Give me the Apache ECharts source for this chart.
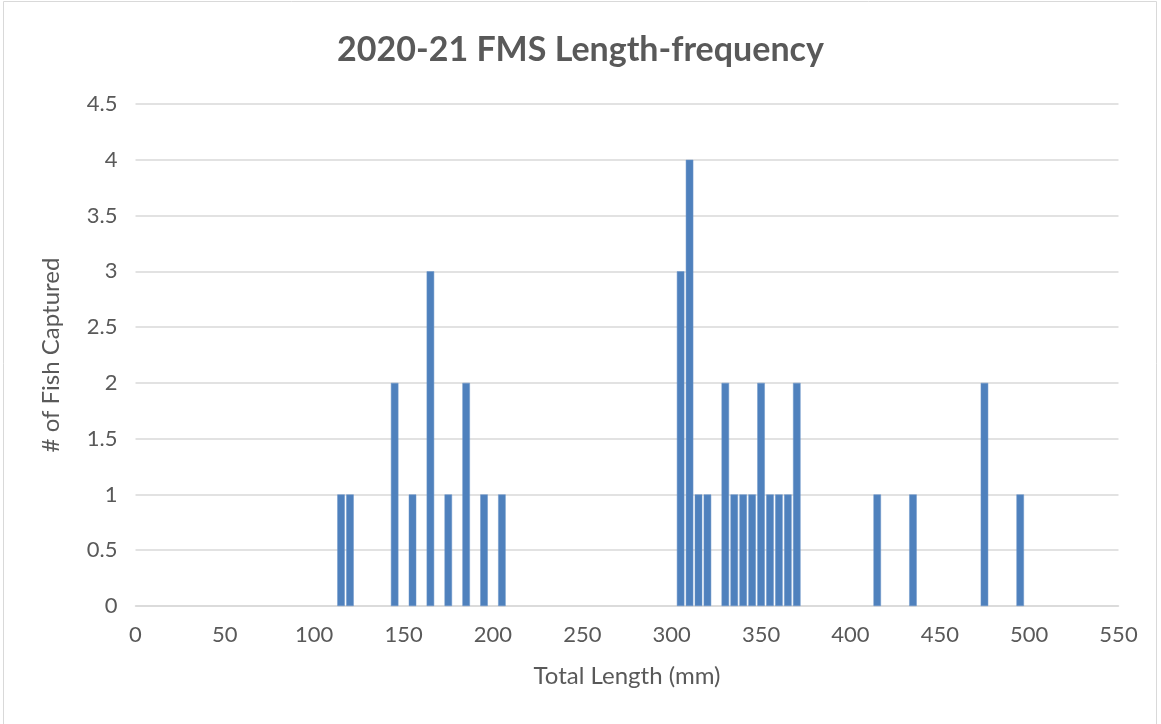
<!DOCTYPE html>
<html>
<head>
<meta charset="utf-8">
<title>2020-21 FMS Length-frequency</title>
<script src="https://cdn.jsdelivr.net/npm/echarts@6/dist/echarts.min.js"></script>
<style>
  html, body { margin: 0; padding: 0; background: #fff; }
  #main { width: 1161px; height: 724px; }
</style>
</head>
<body>
<div id="main"></div>
<script>
// length bins (mm) and number of fish captured in each
var lengths = [115, 120, 145, 155, 165, 175, 185, 195, 205,
               305, 310, 315, 320, 330, 335, 340, 345, 350, 355, 360, 365, 370,
               415, 435, 475, 495];
var counts  = [1, 1, 2, 1, 3, 1, 2, 1, 1,
               3, 4, 1, 1, 2, 1, 1, 1, 2, 1, 1, 1, 2,
               1, 1, 2, 1];

var textColor = '#595959';
var gridColor = '#d9d9d9';
var font = 'Lato, "Open Sans", sans-serif';

var chart = echarts.init(document.getElementById('main'));

var barData = lengths.map(function (x, i) { return [x, counts[i]]; });

chart.setOption({
  animation: false,
  backgroundColor: '#fff',
  title: {
    text: '2020-21 FMS Length-frequency',
    left: 'center',
    top: 28,
    textStyle: { color: textColor, fontSize: 34, fontWeight: 'bold', fontFamily: font }
  },
  graphic: [
    {
      // chart area border
      type: 'rect',
      shape: { x: 3.5, y: 1.5, width: 1153, height: 740 },
      style: { fill: 'none', stroke: gridColor, lineWidth: 1 },
      silent: true
    }
  ],
  grid: {
    left: 135.5,
    right: 42.5,
    top: 104,
    bottom: 118
  },
  xAxis: {
    type: 'value',
    min: 0,
    max: 550,
    interval: 50,
    name: 'Total Length (mm)',
    nameLocation: 'middle',
    nameGap: 58,
    nameTextStyle: { color: textColor, fontSize: 24, fontFamily: font },
    axisLine: { show: true, lineStyle: { color: gridColor, width: 1.5 } },
    axisTick: { show: false },
    splitLine: { show: false },
    axisLabel: { color: textColor, fontSize: 22, fontFamily: font, margin: 18 }
  },
  yAxis: {
    type: 'value',
    min: 0,
    max: 4.5,
    interval: 0.5,
    name: '# of Fish Captured',
    nameLocation: 'middle',
    nameGap: 72,
    nameRotate: 90,
    nameTextStyle: { color: textColor, fontSize: 24, fontFamily: font },
    axisLine: { show: false },
    axisTick: { show: false },
    splitLine: { show: true, lineStyle: { color: gridColor, width: 1.5 } },
    axisLabel: { color: textColor, fontSize: 22, fontFamily: font, margin: 18 }
  },
  series: [
    {
      name: 'Fish',
      type: 'bar',
      data: barData,
      barWidth: 7.5,
      itemStyle: { color: '#4f81bd', borderColor: '#6a95c9', borderWidth: 0.5 }
    }
  ]
});
</script>
</body>
</html>
